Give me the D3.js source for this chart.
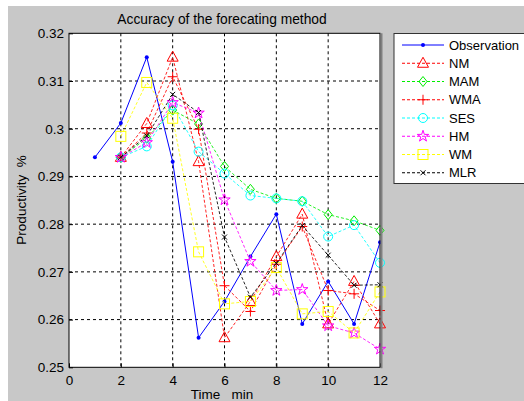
<!DOCTYPE html>
<html><head><meta charset="utf-8">
<script src="https://cdn.jsdelivr.net/npm/d3@7"></script>
<style>body{margin:0;background:#fff;}svg{display:block;font-family:"Liberation Sans",Arial,sans-serif;}</style>
</head><body><svg id="c" width="524" height="401"></svg>
<script>
const time = [1,2,3,4,5,6,7,8,9,10,11,12];
const observation = [0.2940,0.3012,0.3150,0.2931,0.2562,0.2638,0.2732,0.2821,0.2591,0.2680,0.2591,0.2762];
const nm  = [null,0.2940,0.3011,0.3150,0.2931,0.2562,0.2638,0.2732,0.2821,0.2591,0.2680,0.2591];
const mam = [null,0.2940,0.2980,0.3039,0.3010,0.2921,0.2873,0.2854,0.2848,0.2820,0.2807,0.2787];
const wma = [null,0.2940,0.2991,0.3109,0.2999,0.2671,0.2617,0.2716,0.2795,0.2661,0.2654,0.2619];
const ses = [null,0.2940,0.2963,0.3049,0.2952,0.2906,0.2860,0.2854,0.2848,0.2774,0.2798,0.2719];
const hm  = [null,0.2940,0.2971,0.3055,0.3033,0.2851,0.2722,0.2661,0.2663,0.2587,0.2572,0.2538];
const wm  = [null,0.2984,0.3097,0.3022,0.2742,0.2633,0.2638,0.2709,0.2612,0.2617,0.2572,0.2658];
const mlr = [null,0.2940,0.2985,0.3072,0.3034,0.2773,0.2647,0.2718,0.2797,0.2735,0.2672,0.2673];
const xTicks = [0,2,4,6,8,10,12];
const yTicks = [0.25,0.26,0.27,0.28,0.29,0.3,0.31,0.32];
const seriesNames = ["Observation","NM","MAM","WMA","SES","HM","WM","MLR"];
const seriesColors = ["#0000ff","#ff0000","#00ee00","#ff0000","#00ffff","#ff00ff","#ffff00","#000000"];
const seriesMarkers = ["dot","triangle","diamond","plus","circle","star","square","x"];
const seriesValues = [observation,nm,mam,wma,ses,hm,wm,mlr];

const svg = d3.select("#c");
svg.append("rect").attr("x",8).attr("y",6).attr("width",516).attr("height",395).attr("fill","#c8c8c8");

const L=69,R=380,T=33.3,B=367.3;
const x = d3.scaleLinear().domain([0,12]).range([L,R]);
const y = d3.scaleLinear().domain([0.25,0.32]).range([B,T]);

svg.append("rect").attr("x",L).attr("y",T).attr("width",R-L).attr("height",B-T).attr("fill","#fff");
// grid
const g = svg.append("g");
xTicks.slice(1,-1).forEach(t=>g.append("line").attr("x1",x(t)).attr("x2",x(t)).attr("y1",T).attr("y2",B)
  .attr("stroke","#000").attr("stroke-width",1).attr("stroke-dasharray","3,3"));
yTicks.slice(1,-1).forEach(t=>g.append("line").attr("x1",L).attr("x2",R).attr("y1",y(t)).attr("y2",y(t))
  .attr("stroke","#000").attr("stroke-width",1).attr("stroke-dasharray","3,3"));

// axes
const xa = svg.append("g").attr("transform",`translate(0,${B})`)
  .call(d3.axisBottom(x).tickValues(xTicks).tickSize(-4).tickPadding(8).tickFormat(d3.format("d")));
const ya = svg.append("g").attr("transform",`translate(${L},0)`)
  .call(d3.axisLeft(y).tickValues(yTicks).tickSize(-4).tickPadding(5).tickFormat(d=>String(+d.toFixed(2))));
[xa,ya].forEach(a=>{a.select(".domain").remove();a.selectAll("text").attr("font-size",13.5).attr("fill","#000")
  .attr("font-family","Liberation Sans, Arial, sans-serif");a.selectAll("line").attr("stroke","#000");});
xa.selectAll("text").attr("dy","0.71em");

function marker(sel,type,color,cx,cy){
  const m = sel.append("g").attr("transform",`translate(${cx},${cy})`);
  const s = {fill:"none",stroke:color,"stroke-width":1};
  const add=(el)=>{Object.entries(s).forEach(([k,v])=>el.attr(k,v));return el;};
  if(type==="dot") m.append("circle").attr("r",2).attr("fill",color);
  else if(type==="triangle") add(m.append("path").attr("d","M0,-6L5.5,4L-5.5,4Z"));
  else if(type==="diamond") add(m.append("path").attr("d","M0,-5L4,0L0,5L-4,0Z"));
  else if(type==="plus") add(m.append("path").attr("d","M-5,0H5M0,-5V5"));
  else if(type==="circle") add(m.append("circle").attr("r",4.5));
  else if(type==="star") add(m.append("path").attr("d",d3.symbol(d3.symbolStar,40)()));
  else if(type==="square") add(m.append("rect").attr("x",-5).attr("y",-5).attr("width",10).attr("height",10));
  else if(type==="x") add(m.append("path").attr("d","M-2.5,-2.5L2.5,2.5M-2.5,2.5L2.5,-2.5"));
}

const line = d3.line().defined(d=>d[1]!=null).x(d=>x(d[0])).y(d=>y(d[1]));
const plot = svg.append("g");
seriesValues.forEach((vals,i)=>{
  const pts = time.map((t,j)=>[t,vals[j]]).filter(d=>d[1]!=null);
  plot.append("path").attr("d",line(pts)).attr("fill","none").attr("stroke",seriesColors[i])
    .attr("stroke-width",1).attr("stroke-dasharray",i===0?null:"3,2").attr("opacity",i===0?1:0.85);
  pts.forEach(p=>marker(plot,seriesMarkers[i],seriesColors[i],x(p[0]),y(p[1])));
});

// box
svg.append("rect").attr("x",L).attr("y",T).attr("width",R-L).attr("height",B-T).attr("fill","none").attr("stroke","#000");
svg.append("line").attr("x1",R+1.5).attr("x2",R+1.5).attr("y1",T).attr("y2",B+1).attr("stroke","#808080").attr("stroke-width",2);

// title & labels
svg.append("text").attr("x",222).attr("y",24).attr("text-anchor","middle").attr("font-size",13.8).text("Accuracy of the forecating method");
svg.append("text").attr("x",222).attr("y",399).attr("text-anchor","middle").attr("font-size",13.5).attr("xml:space","preserve").text("Time   min");
svg.append("text").attr("transform","translate(26,200) rotate(-90)").attr("text-anchor","middle").attr("font-size",13.5).attr("xml:space","preserve").text("Productivity  %");

// legend
const lg = svg.append("g");
lg.append("rect").attr("x",394).attr("y",33.5).attr("width",140).attr("height",150).attr("fill","#fff").attr("stroke","#333");
seriesNames.forEach((n,i)=>{
  const yy = 45 + i*18.25;
  lg.append("line").attr("x1",402).attr("x2",444).attr("y1",yy).attr("y2",yy).attr("stroke",seriesColors[i])
    .attr("stroke-dasharray",i===0?null:"3,2");
  marker(lg,seriesMarkers[i],seriesColors[i],423,yy);
  lg.append("text").attr("x",449).attr("y",yy+4.5).attr("font-size",13).text(n);
});
</script></body></html>
